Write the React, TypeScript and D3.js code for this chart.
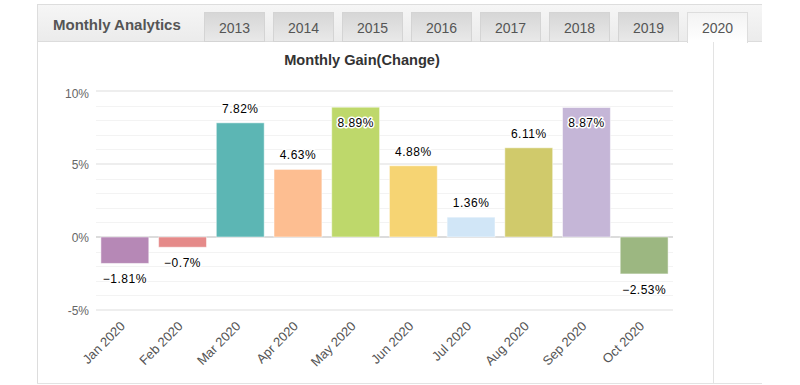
import React from "react";
import * as d3 from "d3";

const months = ["Jan 2020", "Feb 2020", "Mar 2020", "Apr 2020", "May 2020", "Jun 2020", "Jul 2020", "Aug 2020", "Sep 2020", "Oct 2020"];
const gains = [-1.81, -0.7, 7.82, 4.63, 8.89, 4.88, 1.36, 6.11, 8.87, -2.53];
const barColors = ["#b688b6", "#e58a89", "#5cb6b4", "#fdbe91", "#bed86b", "#f6d473", "#d1e6f7", "#d0ca6b", "#c5b6d7", "#9cb781"];
const yTicks = [-5, 0, 5, 10];
const minorTicks = d3.range(-5, 11, 1);
const tabs = ["2013", "2014", "2015", "2016", "2017", "2018", "2019", "2020"];
const activeTab = "2020";
const headerTitle = "Monthly Analytics";
const chartTitle = "Monthly Gain(Change)";

const FONT = "'Liberation Sans', Arial, sans-serif";

export default function App() {
  const x = d3.scaleBand<string>().domain(months).range([96, 673]).paddingInner(0.17).paddingOuter(0.085);
  const y = d3.scaleLinear().domain([-5, 10]).range([310, 91]);
  const top = y(10);
  const fmt = (v: number) => `${v}%`;

  return (
    <div style={{ position: "absolute", left: 0, top: 0, width: 800, height: 385, background: "#fff" }}>
      <svg width={800} height={385} style={{ display: "block", fontFamily: FONT }}>
        <defs>
          <linearGradient id="hdr" x1="0" y1="0" x2="0" y2="1">
            <stop offset="0" stopColor="#f6f6f6" />
            <stop offset="1" stopColor="#ebebeb" />
          </linearGradient>
          <linearGradient id="tab" x1="0" y1="0" x2="0" y2="1">
            <stop offset="0" stopColor="#d6d6d6" />
            <stop offset="1" stopColor="#e9e9e9" />
          </linearGradient>
          <linearGradient id="tabA" x1="0" y1="0" x2="0" y2="1">
            <stop offset="0" stopColor="#f3f3f3" />
            <stop offset="1" stopColor="#ffffff" />
          </linearGradient>
        </defs>

        {/* header */}
        <rect x={37} y={4} width={725} height={38} fill="url(#hdr)" />
        <line x1={37} x2={762} y1={4.5} y2={4.5} stroke="#dddddd" />
        <line x1={37} x2={762} y1={41.5} y2={41.5} stroke="#dcdcdc" />
        <text x={53} y={30} fontSize={15} fontWeight="bold" fill="#555">{headerTitle}</text>
        {tabs.map((t, i) => {
          const tx = 204 + i * 69;
          const active = t === activeTab;
          return (
            <g key={t}>
              <rect x={tx + 0.5} y={12.5} width={60} height={active ? 30 : 29} fill={active ? "url(#tabA)" : "url(#tab)"} stroke={active ? "#dddddd" : "#d4d4d4"} />
              {active && <rect x={tx + 1} y={40} width={59} height={3} fill="#fff" />}
              <text x={tx + 30.5} y={33} fontSize={14} fill="#555" textAnchor="middle">{t}</text>
            </g>
          );
        })}

        {/* panel borders */}
        <line x1={37.5} x2={37.5} y1={4} y2={384} stroke="#dddddd" />
        <line x1={713.5} x2={713.5} y1={42} y2={384} stroke="#e3e3e3" />
        <line x1={37} x2={762} y1={383.5} y2={383.5} stroke="#e3e3e3" />

        {/* title */}
        <text x={362} y={65} fontSize={14.6} fontWeight="bold" fill="#333" textAnchor="middle">{chartTitle}</text>

        {/* grid */}
        {minorTicks.filter((t) => !yTicks.includes(t)).map((t) => (
          <line key={"m" + t} x1={96} x2={673} y1={Math.round(y(t)) + 0.5} y2={Math.round(y(t)) + 0.5} stroke="#f3f3f3" />
        ))}
        {yTicks.map((t) => (
          <line key={"M" + t} x1={96} x2={673} y1={y(t)} y2={y(t)} stroke={t === 0 ? "#dcdcdc" : "#e8e8e8"} strokeWidth={t === 0 ? 2 : 1.5} />
        ))}
        {yTicks.map((t) => (
          <text key={"yl" + t} x={89} y={y(t) + (t === 10 ? 3 : 1)} dy="0.35em" fontSize={12} fill="#666" textAnchor="end">{fmt(t)}</text>
        ))}

        {/* bars */}
        {months.map((m, i) => {
          const v = gains[i];
          const y0 = y(0);
          const y1 = y(v);
          const bx = x(m) as number;
          return (
            <rect key={m} x={bx} y={Math.min(y0, y1)} width={x.bandwidth()} height={Math.abs(y1 - y0)} fill={barColors[i]} stroke="#ffffff" strokeOpacity={0.5} strokeWidth={1} />
          );
        })}

        {/* value labels */}
        {months.map((m, i) => {
          const v = gains[i];
          const cx = (x(m) as number) + x.bandwidth() / 2;
          const yv = y(v);
          let ly: number;
          if (v < 0) ly = yv + 20;
          else if (yv - 20 < top) ly = yv + 20;
          else ly = yv - 10;
          return (
            <text key={"l" + m} x={cx} y={ly} fontSize={12} fill="#000" textAnchor="middle" stroke="#fff" strokeWidth={3} strokeLinejoin="round" paintOrder="stroke" letterSpacing={0.5}>
              {v < 0 ? "\u2212" + fmt(Math.abs(v)) : fmt(v)}
            </text>
          );
        })}

        {/* x labels */}
        {months.map((m) => {
          const cx = (x(m) as number) + x.bandwidth() / 2;
          return (
            <text key={"x" + m} transform={`translate(${cx + 1},${327}) rotate(-45)`} fontSize={13} fill="#555" textAnchor="end">{m}</text>
          );
        })}
      </svg>
    </div>
  );
}
